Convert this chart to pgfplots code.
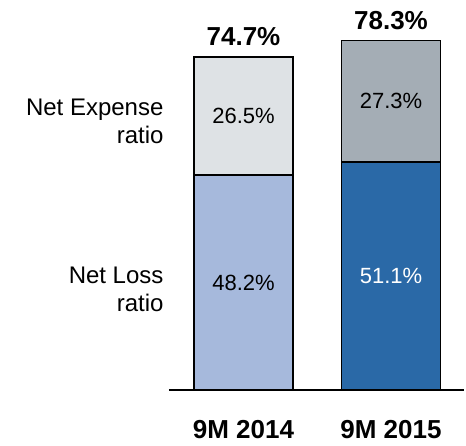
\documentclass[border=0pt]{standalone}
\usepackage{fontspec}
\setmainfont{Liberation Sans}
\usepackage{pgfplots}
\pgfplotsset{compat=1.18}

\definecolor{lossA}{HTML}{A6B9DC}
\definecolor{lossB}{HTML}{2A69A7}
\definecolor{expA}{HTML}{DEE2E5}
\definecolor{expB}{HTML}{A4ADB5}

\pgfplotsset{
    frame/.style={
        scale only axis,
        width=295pt, height=390pt,
        xmin=-0.505, xmax=1.495,
        ymin=0, ymax=87.44,
        bar width=99pt,
        clip=false,
    }
}

\begin{document}
\begin{tikzpicture}
\begin{axis}[
    ybar stacked,
    frame,
    axis y line=none,
    axis x line*=bottom,
    x axis line style={-, line width=1.6pt},
    xtick={0,1},
    xticklabels={9M 2014, 9M 2015},
    major tick length=0pt,
    xticklabel style={font=\bfseries\fontsize{26}{30}\selectfont, anchor=base, yshift=-48pt},
    point meta=explicit symbolic,
    nodes near coords,
    every node near coord/.append style={
        text=black, font=\fontsize{22}{26}\selectfont, anchor=center},
]
% net loss ratio
\addplot[fill=lossA, draw=black, line width=1.6pt]
    coordinates {(0,48.2) [48.2\%] (1,0) [{}]};
\addplot[fill=lossB, draw=black, line width=1.6pt,
    every node near coord/.append style={text=white}]
    coordinates {(0,0) [{}] (1,51.1) [51.1\%]};
% net expense ratio
\addplot[fill=expA, draw=black, line width=1.6pt]
    coordinates {(0,26.5) [26.5\%] (1,0) [{}]};
\addplot[fill=expB, draw=black, line width=1.6pt]
    coordinates {(0,0) [{}] (1,27.3) [27.3\%]};

\node[anchor=east, align=right, xshift=-2pt, font=\fontsize{24}{28}\selectfont]
    at (axis cs:-0.505,60.3) {Net Expense\\ratio};
\node[anchor=east, align=right, xshift=-2pt, font=\fontsize{24}{28}\selectfont]
    at (axis cs:-0.505,22.5) {Net Loss\\ratio};
\end{axis}
% combined ratio on top of the bars
\begin{axis}[
    ybar,
    frame,
    hide axis,
    point meta=explicit symbolic,
    nodes near coords,
    every node near coord/.append style={
        text=black, anchor=base, yshift=11pt,
        font=\bfseries\fontsize{26}{30}\selectfont},
]
\addplot[draw=none, fill=none]
    coordinates {(0,74.7) [74.7\%] (1,78.3) [78.3\%]};
\end{axis}
\pgfresetboundingbox
\path (-169pt,-55pt) rectangle (297pt,390pt);
\end{tikzpicture}
\end{document}
